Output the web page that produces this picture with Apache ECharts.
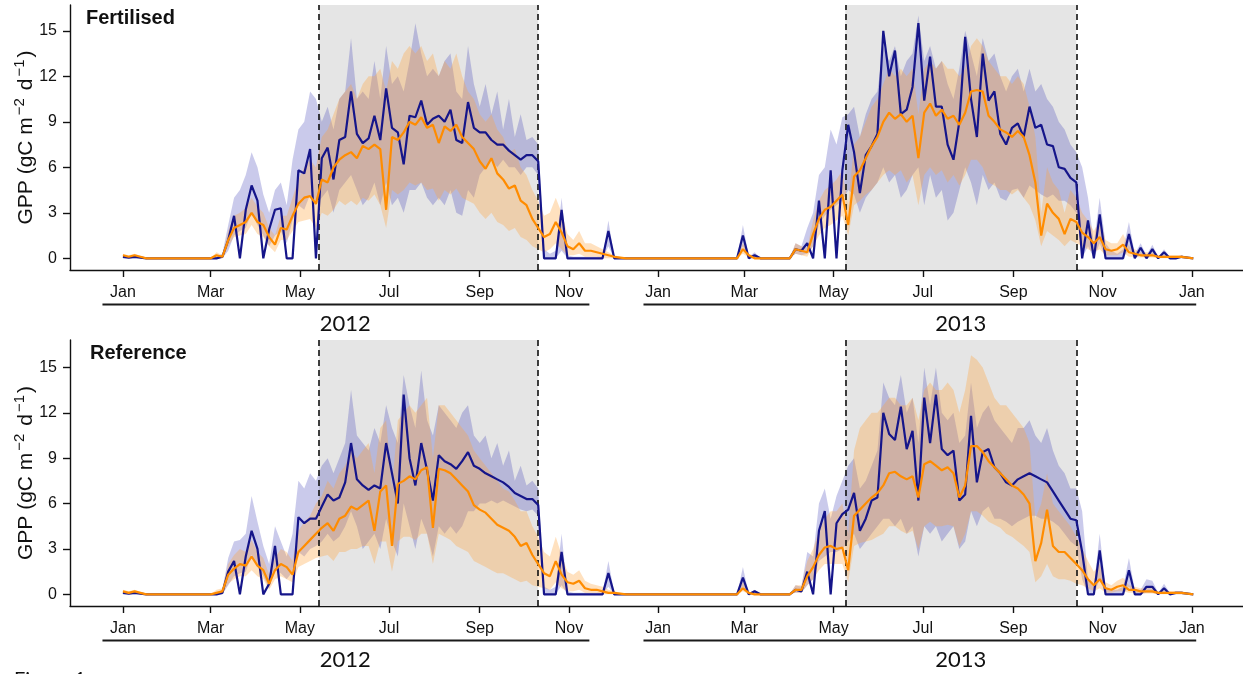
<!DOCTYPE html>
<html><head><meta charset="utf-8">
<script src="https://cdn.jsdelivr.net/npm/echarts@6/dist/echarts.min.js"></script>
<style>html,body{margin:0;padding:0;background:#fff;}#c{width:1243px;height:674px;}</style>
</head><body><div id="c"></div>
<script>
// ---------------- DATA ----------------
const DAY_STEP = 4;                      // readings every 4 days
const START_2012 = '2012-01-01';          // first reading of the *2012 arrays
const START_2013 = '2013-01-03';          // first reading of the *2013 arrays
const tickDates  = ['2012-01-01','2012-03-01','2012-05-01','2012-07-01','2012-09-01','2012-11-01',
                    '2013-01-01','2013-03-01','2013-05-01','2013-07-01','2013-09-01','2013-11-01','2014-01-01'];
const tickLabels = ['Jan','Mar','May','Jul','Sep','Nov','Jan','Mar','May','Jul','Sep','Nov','Jan'];
const yTicks = [0,3,6,9,12,15];
const panelTitles = ['Fertilised','Reference'];
const yearLabels = ['2012','2013'];
const yearSpans = [['2011-12-18','2012-11-15'],['2012-12-22','2014-01-04']];
const yearLabelDates = ['2012-06-01','2013-07-27'];
const growingSeasons = [['2012-05-14','2012-10-11'],['2013-05-09','2013-10-14']];

// ----- Fertilised panel -----
const fertNavy2012 = [
0.1,0.05,0.1,0.05,0,0,0,0,0,0,0,0,0,0,0,
0,0,0.1,1.2,2.8,0,3.2,4.8,3.8,0,
1.9,3.2,3.3,0,0,5.8,5.6,7.2,0,6.6,
7.3,5.2,7.8,8.0,11.0,8.2,7.6,7.9,9.4,7.8,
11.2,8.6,8.3,6.2,9.4,9.3,10.4,8.8,9.2,9.4,
9.0,9.8,7.8,7.6,10.3,8.6,8.3,8.3,7.8,7.5,
7.5,7.1,6.8,6.5,6.8,6.8,6.4,0,0,0,
3.2,0,0,0,0,0,0,0,1.8,0,
0,0,0,0,0,0,0];
const fertOrange2012 = [
0.2,0.1,0.2,0.1,0,0,0,0,0,0,0,0,0,0,0,
0,0.2,0.1,1.2,2.0,2.2,2.4,3.0,2.4,2.2,
1.4,0.9,2.0,1.9,2.8,3.6,4.0,4.1,3.6,5.2,
5.0,6.0,6.5,6.8,7.0,6.6,7.4,7.2,7.5,7.2,
3.2,8.0,7.8,8.3,9.0,8.8,9.3,8.6,8.8,7.6,
8.7,8.4,8.8,8.0,7.6,7.2,6.4,5.9,6.6,5.6,
5.2,4.6,4.8,3.8,3.5,2.6,2.0,1.4,1.6,2.4,
1.7,0.8,0.6,1.0,0.5,0.5,0.4,0.3,0.2,0.1,
0.05,0,0,0,0,0,0];
const fertNavyLo2012 = [
0,0,0,0,0,0,0,0,0,0,0,0,0,0,0,
0,0,0,0.5,1.5,1.8,2.0,3.0,2.2,1.5,
0.8,1.5,1.8,1.0,2.5,3.5,3.2,4.2,3.5,4.0,
4.5,3.0,4.5,5.0,5.5,4.5,3.5,4.0,5.0,3.5,
5.0,3.5,4.0,3.0,4.5,4.5,5.0,4.0,3.5,4.0,
3.5,4.5,3.0,2.8,4.5,4.0,5.5,6.0,6.5,6.0,
6.5,6.0,6.0,5.5,6.0,6.0,5.5,0,0,0,
0.5,0,0,0,0,0,0,0,0.8,0,
0,0,0,0,0,0,0];
const fertNavyHi2012 = [
0.2,0.15,0.2,0.1,0,0,0,0,0,0,0,0,0,0,0,
0,0.1,0.3,2.2,4.0,4.5,5.5,7.0,6.0,4.2,
3.0,4.5,5.0,3.5,6.5,8.5,9.0,11.0,10.5,9.0,
10.0,8.5,10.5,11.0,14.5,10.5,11.0,10.5,13.0,10.5,
14.0,11.5,12.0,11.0,13.0,15.5,13.5,12.0,12.5,12.0,
13.0,13.5,11.0,10.5,14.0,11.5,10.0,11.5,9.5,11.0,
8.5,10.5,8.0,9.5,7.8,8.0,7.5,0.6,0.3,0.5,
4.0,0.2,0.1,0.1,0.1,0.1,0.1,0.1,2.5,0.1,
0,0,0,0,0,0,0];
const fertOrangeLo2012 = [
0.05,0,0.05,0,0,0,0,0,0,0,0,0,0,0,0,
0,0,0,0.8,1.4,1.5,1.6,2.2,1.6,1.4,
0.8,0.4,1.2,1.2,1.8,2.4,2.5,2.6,2.0,3.0,
2.8,3.2,3.8,3.5,3.8,3.5,4.0,3.8,4.2,3.5,
2.0,4.5,4.2,4.5,5.0,4.8,5.0,4.5,4.6,3.8,
4.5,4.2,4.6,4.0,3.8,3.6,3.0,2.6,3.0,2.4,
2.2,1.8,2.0,1.4,1.2,0.8,0.6,0.4,0.6,1.0,
0.6,0.2,0.2,0.3,0.1,0.1,0.1,0,0,0,
0,0,0,0,0,0,0];
const fertOrangeHi2012 = [
0.3,0.2,0.3,0.15,0,0,0,0,0,0,0,0,0,0,0,
0,0.4,0.2,1.8,2.8,3.0,3.3,4.0,3.4,3.0,
2.0,1.5,2.8,2.8,4.0,5.2,6.0,6.5,6.0,8.0,
8.5,9.5,10.5,11.0,11.5,10.5,11.5,12.0,12.0,12.5,
11.0,13.0,12.5,13.5,14.0,13.5,14.0,13.0,13.5,12.0,
13.0,12.5,13.5,12.0,11.0,10.5,9.5,9.0,9.5,8.5,
8.0,7.0,7.2,6.0,5.5,4.5,3.8,2.8,3.0,4.0,
3.0,1.6,1.2,1.8,1.0,1.0,0.8,0.6,0.4,0.2,
0.1,0,0,0,0,0,0];

const fertNavy2013 = [
0,0,0,0,0,0,0,0,0,0,0,0,0,0,1.5,0,0.2,0,0,0,0,0,
0,0.6,0.5,1.0,0,3.8,0,5.8,0,5.8,
8.8,7.0,4.3,6.8,7.4,8.2,15.0,12.0,13.7,9.5,
9.8,11.3,15.5,10.4,13.3,10.0,10.0,7.5,6.5,9.0,
14.6,10.5,8.0,13.5,10.4,11.0,8.2,7.5,8.6,8.9,
8.0,10.0,8.6,8.8,7.5,7.4,6.0,5.9,5.3,5.0,
0,2.5,0,2.9,0,0,0,0,1.6,0,
0.7,0,0.6,0,0.4,0,0,0.1,0.05,0];
const fertOrange2013 = [
0,0,0,0,0,0,0,0,0,0,0,0,0,0,0.6,0.2,0,0,0,0,0,0,
0,0.6,0.5,0.4,1.6,2.6,3.2,3.4,3.8,4.2,
2.2,5.4,5.8,6.6,7.4,8.0,9.0,9.6,9.2,9.5,
9.0,9.4,6.6,9.6,10.2,9.4,9.8,9.2,9.4,8.8,
9.6,11.0,11.1,11.0,9.4,9.0,8.5,8.3,8.0,8.4,
8.0,6.8,5.0,1.5,3.6,3.0,2.6,1.6,2.6,2.4,
1.7,1.4,1.0,1.4,0.6,0.5,0.6,0.9,0.4,0.3,
0.2,0.2,0.2,0.1,0.1,0.1,0.1,0.1,0.05,0];
const fertNavyLo2013 = [
0,0,0,0,0,0,0,0,0,0,0,0,0,0,0.8,0,0,0,0,0,0,0,
0,0.3,0.2,0.3,0.8,2.2,2.8,3.2,3.5,3.8,
4.5,4.2,3.0,4.0,4.5,5.0,6.0,5.0,5.5,4.0,
4.5,5.5,6.0,3.5,5.5,4.0,4.5,2.5,3.0,4.5,
6.0,5.0,3.5,5.5,4.5,5.0,4.0,3.8,4.5,4.6,
4.0,4.8,4.5,4.2,4.0,4.2,3.8,3.8,3.5,3.0,
0,0.8,0,1.0,0,0,0,0,0.6,0,
0.2,0,0.2,0,0.1,0,0,0,0,0];
const fertNavyHi2013 = [
0,0,0,0,0,0,0,0,0,0,0,0,0,0,2.2,0.1,0.4,0,0,0,0,0,
0,1.0,0.8,2.0,3.0,5.5,6.0,8.5,7.5,9.3,
9.5,10.0,8.0,9.5,10.5,11.0,14.0,13.0,14.0,12.0,
13.0,13.5,16.0,13.0,14.0,12.5,13.0,11.5,10.5,12.5,
15.0,13.5,12.0,14.5,13.0,13.5,12.0,11.0,12.0,12.5,
11.0,12.5,11.0,11.5,10.5,10.0,9.0,8.5,7.5,7.0,
6.0,4.0,1.0,4.0,1.0,0.5,0.3,0.6,2.4,0.3,
1.0,0.2,0.9,0.1,0.6,0.1,0.1,0.2,0.1,0];
const fertOrangeLo2013 = [
0,0,0,0,0,0,0,0,0,0,0,0,0,0,0.3,0.05,0,0,0,0,0,0,
0,0.3,0.2,0.1,0.8,1.5,2.0,2.2,2.5,2.8,
1.5,3.5,3.8,4.2,4.5,5.0,5.5,5.8,5.5,5.8,
5.0,5.5,3.5,5.5,6.0,5.5,5.8,5.0,5.5,4.8,
5.5,6.5,6.5,6.0,5.0,4.8,4.5,4.5,4.2,4.5,
4.0,3.5,2.5,0.8,1.8,1.5,1.2,0.8,1.2,1.0,
0.8,0.6,0.4,0.6,0.2,0.2,0.2,0.4,0.1,0.1,
0.05,0.05,0.05,0,0,0,0,0,0,0];
const fertOrangeHi2013 = [
0,0,0,0,0,0,0,0,0,0,0,0,0,0,1.0,0.3,0.1,0,0,0,0,0,
0,1.0,0.8,0.7,2.5,3.8,4.5,4.8,5.2,5.8,
3.5,7.5,8.0,9.0,10.0,10.5,11.5,12.5,12.0,12.5,
12.0,12.5,9.5,12.5,13.0,12.5,13.0,12.5,12.5,12.0,
12.5,14.0,14.5,14.0,13.0,12.5,12.0,12.0,11.5,12.0,
11.5,10.0,8.0,3.0,6.0,5.0,4.5,3.0,4.5,4.0,
3.0,2.5,1.8,2.5,1.2,1.0,1.0,1.6,0.8,0.6,
0.4,0.4,0.4,0.2,0.2,0.2,0.2,0.2,0.1,0];

// ----- Reference panel -----
const refNavy2012 = [
0.1,0.05,0.1,0.05,0,0,0,0,0,0,0,0,0,0,0,
0,0,0.1,1.5,2.2,0,2.5,4.2,3.0,0,
0.7,3.2,0,0,0,5.1,4.7,5.0,5.0,5.8,
6.6,6.2,6.4,7.4,10.0,7.6,7.2,6.9,7.2,7.0,
10.0,8.0,6.0,13.2,9.0,7.2,10.0,8.2,6.2,9.2,
8.8,8.6,8.3,8.8,9.4,8.5,8.3,8.0,7.8,7.6,
7.4,7.1,6.7,6.5,6.3,6.3,5.9,0,0,0,
2.8,0,0,0,0,0,0,0,1.4,0,
0,0,0,0,0,0,0];
const refOrange2012 = [
0.2,0.1,0.2,0.1,0,0,0,0,0,0,0,0,0,0,0,
0,0.1,0.2,1.3,1.7,2.0,1.9,2.5,1.9,1.6,
0.7,1.6,2.0,1.8,1.3,2.8,3.2,3.6,4.0,4.4,
4.7,4.2,5.0,5.2,5.8,5.6,5.9,6.2,4.2,6.8,
7.2,3.2,7.3,7.5,7.8,7.6,8.2,8.4,4.4,8.3,
8.2,8.0,7.6,7.2,6.8,5.9,5.6,5.4,5.0,4.6,
4.4,4.2,3.8,3.2,3.4,2.6,2.0,1.4,1.2,2.2,
1.3,0.8,0.7,0.9,0.4,0.3,0.3,0.2,0.1,0.1,
0.05,0,0,0,0,0,0];
const refNavyLo2012 = [
0,0,0,0,0,0,0,0,0,0,0,0,0,0,0,
0,0,0,0.6,1.2,1.4,1.5,2.6,1.8,1.2,
0.4,1.6,1.4,1.0,1.5,2.8,2.5,3.0,3.2,3.5,
4.0,3.5,3.8,4.5,5.5,4.5,3.0,3.5,4.0,3.0,
5.0,3.5,2.5,6.0,4.5,3.0,5.0,4.0,2.5,4.5,
4.0,4.5,4.0,4.5,5.5,5.5,6.0,6.0,6.2,6.0,
6.2,6.0,5.8,5.6,5.5,5.6,5.2,0,0,0,
0.6,0,0,0,0,0,0,0,0.5,0,
0,0,0,0,0,0,0];
const refNavyHi2012 = [
0.2,0.15,0.2,0.1,0,0,0,0,0,0,0,0,0,0,0,
0,0.1,0.3,2.4,3.5,3.6,4.0,6.5,4.8,3.2,
2.0,4.5,3.5,2.5,4.0,7.5,7.0,8.0,7.5,8.5,
9.0,8.0,9.0,10.0,13.5,10.5,10.0,9.5,11.0,10.0,
12.5,11.0,10.0,14.5,12.5,11.0,14.8,11.5,10.5,12.5,
12.0,11.5,11.0,12.0,12.5,10.5,10.0,10.5,9.0,10.0,
8.5,9.5,7.5,8.5,7.2,7.5,7.0,0.5,0.3,0.5,
4.0,0.2,0.1,0.1,0.1,0.1,0.1,0.1,2.2,0.1,
0,0,0,0,0,0,0];
const refOrangeLo2012 = [
0.05,0,0.05,0,0,0,0,0,0,0,0,0,0,0,0,
0,0,0,0.7,1.0,1.2,1.2,1.6,1.2,1.0,
0.3,1.0,1.2,1.0,0.8,1.8,2.0,2.2,2.4,2.5,
2.6,2.2,2.8,2.8,3.0,3.0,3.2,3.2,2.0,3.5,
3.5,1.5,3.5,3.8,3.8,3.6,4.0,4.0,2.0,4.0,
3.8,3.6,3.2,3.0,2.8,2.2,2.0,1.8,1.6,1.4,
1.4,1.2,1.0,0.8,0.9,0.6,0.5,0.4,0.3,0.8,
0.4,0.2,0.2,0.3,0.1,0.1,0.1,0,0,0,
0,0,0,0,0,0,0];
const refOrangeHi2012 = [
0.3,0.2,0.3,0.15,0,0,0,0,0,0,0,0,0,0,0,
0,0.3,0.4,2.0,2.6,3.0,2.8,3.6,2.8,2.4,
1.3,2.4,3.0,2.8,2.2,4.2,4.8,5.2,6.0,6.5,
7.5,7.0,8.0,8.5,9.5,9.0,9.5,10.0,8.0,11.0,
11.5,7.0,11.5,12.0,12.5,12.0,12.5,13.0,9.0,12.5,
12.5,12.0,11.5,11.0,10.5,9.5,9.0,8.5,8.0,7.5,
7.0,6.8,6.2,5.5,5.5,4.5,3.8,2.8,2.5,3.8,
2.6,1.5,1.3,1.6,0.9,0.7,0.6,0.5,0.3,0.2,
0.1,0,0,0,0,0,0];

const refNavy2013 = [
0,0,0,0,0,0,0,0,0,0,0,0,0,0,1.1,0,0.2,0,0,0,0,0,
0,0.3,0.2,1.5,0,4.2,5.5,0,4.7,5.3,
5.6,6.7,4.2,5.0,6.2,6.4,12.0,10.6,10.2,12.4,
9.6,10.8,6.2,13.0,10.0,13.2,9.6,9.2,9.5,6.2,
6.6,11.8,7.4,9.4,9.6,8.4,8.0,7.4,7.2,7.6,
7.8,8.0,7.8,7.6,7.4,6.8,6.2,5.6,5.0,4.9,
2.8,0,0,2.9,0,0,0,0,1.6,0,
0,0.5,0.5,0,0.4,0,0.1,0.1,0.05,0];
const refOrange2013 = [
0,0,0,0,0,0,0,0,0,0,0,0,0,0,0.4,0.1,0,0,0,0,0,0,
0,0.3,0.3,1.2,1.8,2.6,3.1,3.2,3.0,3.1,
1.6,5.2,5.6,6.0,6.4,6.7,7.2,8.0,8.1,7.8,
7.6,7.8,6.4,8.6,8.8,8.5,8.2,8.4,8.0,6.4,
7.2,9.8,9.8,9.4,8.8,8.4,8.0,7.6,7.2,7.0,
6.6,6.0,2.2,3.4,5.6,3.2,2.8,2.8,2.4,2.0,
1.6,1.0,0.6,1.0,0.4,0.3,0.5,0.6,0.3,0.3,
0.2,0.2,0.2,0.1,0.1,0.1,0.1,0.1,0.05,0];
const refNavyLo2013 = [
0,0,0,0,0,0,0,0,0,0,0,0,0,0,0.5,0,0,0,0,0,0,0,
0,0.1,0.1,0.6,1.0,2.2,2.5,2.8,2.8,3.0,
3.5,4.0,3.0,3.5,4.0,4.5,5.0,5.0,4.5,5.0,
4.0,4.5,2.5,4.5,4.0,4.5,3.5,4.0,4.5,3.0,
3.5,5.5,4.5,5.5,5.8,5.0,5.0,4.8,4.5,4.8,
5.0,5.2,5.2,5.0,5.0,4.8,4.5,4.0,3.5,3.2,
1.0,0,0,1.0,0,0,0,0,0.5,0,
0,0.1,0.1,0,0.1,0,0,0,0,0];
const refNavyHi2013 = [
0,0,0,0,0,0,0,0,0,0,0,0,0,0,1.8,0,0.3,0,0,0,0,0,
0,0.6,0.5,2.8,2.5,6.0,7.0,5.0,6.5,7.5,
8.5,9.0,7.0,7.5,8.5,9.5,14.0,13.0,12.5,14.5,
12.0,13.0,10.0,15.0,12.5,15.0,12.0,11.5,12.0,10.0,
10.5,14.0,11.0,12.0,12.5,11.5,11.0,10.5,10.0,11.0,
11.0,11.5,10.5,10.0,11.0,9.5,8.5,8.0,7.0,7.0,
5.5,1.0,0.5,4.0,0.5,0.3,0.3,0.5,2.4,0.3,
0.3,1.0,0.9,0.1,0.7,0.1,0.2,0.2,0.1,0];
const refOrangeLo2013 = [
0,0,0,0,0,0,0,0,0,0,0,0,0,0,0.2,0,0,0,0,0,0,0,
0,0.1,0.1,0.6,1.0,1.6,2.0,2.0,2.0,2.0,
0.8,3.2,3.4,3.5,3.6,3.8,4.0,4.5,4.5,4.2,
4.0,4.2,3.0,4.5,4.8,4.5,4.5,4.6,4.5,3.2,
4.0,5.5,5.5,5.2,4.8,4.6,4.4,4.0,3.8,3.5,
3.2,2.8,0.8,1.2,2.0,1.2,1.0,1.0,0.9,0.7,
0.6,0.4,0.2,0.4,0.1,0.1,0.2,0.2,0.1,0.1,
0.05,0.05,0.05,0,0,0,0,0,0,0];
const refOrangeHi2013 = [
0,0,0,0,0,0,0,0,0,0,0,0,0,0,0.8,0.2,0,0,0,0,0,0,
0,0.6,0.6,2.2,3.0,4.2,5.0,5.5,5.5,6.0,
4.0,9.5,11.0,11.5,12.0,12.0,12.5,13.0,13.0,12.5,
12.5,13.0,11.5,13.5,14.0,13.5,13.5,14.0,13.5,12.0,
13.5,15.8,15.5,15.0,14.0,13.0,12.5,12.5,12.0,11.5,
11.0,10.0,5.0,6.0,8.0,6.0,5.5,5.0,4.5,3.8,
3.0,2.2,1.5,2.0,0.8,0.6,0.9,1.1,0.6,0.5,
0.4,0.4,0.4,0.2,0.2,0.2,0.2,0.2,0.1,0];

// ---------------- BUILD ----------------
const ORIGIN = Date.UTC(2012, 0, 1);
function dayOf(s){ const p = s.split('-').map(Number); return (Date.UTC(p[0], p[1]-1, p[2]) - ORIGIN) / 86400000; }
function toPairs(a2012, a2013){
  const s1 = dayOf(START_2012), s2 = dayOf(START_2013);
  return a2012.map((v,i)=>[s1 + i*DAY_STEP, v]).concat(a2013.map((v,i)=>[s2 + i*DAY_STEP, v]));
}
const panels = [
  { navy: toPairs(fertNavy2012, fertNavy2013), orange: toPairs(fertOrange2012, fertOrange2013),
    navyLo: toPairs(fertNavyLo2012, fertNavyLo2013), navyHi: toPairs(fertNavyHi2012, fertNavyHi2013),
    orangeLo: toPairs(fertOrangeLo2012, fertOrangeLo2013), orangeHi: toPairs(fertOrangeHi2012, fertOrangeHi2013) },
  { navy: toPairs(refNavy2012, refNavy2013), orange: toPairs(refOrange2012, refOrange2013),
    navyLo: toPairs(refNavyLo2012, refNavyLo2013), navyHi: toPairs(refNavyHi2012, refNavyHi2013),
    orangeLo: toPairs(refOrangeLo2012, refOrangeLo2013), orangeHi: toPairs(refOrangeHi2012, refOrangeHi2013) }
];

const NAVY = '#15158a', ORANGE = '#ff8c00';
const NAVY_BAND = 'rgba(60,60,180,0.27)', ORANGE_BAND = 'rgba(255,165,60,0.33)';
const FONT = 'Liberation Sans';
const grids = [
  { left: 70, top: 5, width: 1173, height: 265, outerBoundsMode: 'none', containLabel: false },
  { left: 70, top: 340, width: 1173, height: 266, outerBoundsMode: 'none', containLabel: false }
];
const yRanges = [[-0.77, 16.7], [-0.77, 16.81]];
const tickDays = tickDates.map(dayOf);

function bandSeries(p, lo, hi, color, z){
  const data = lo.map((d,i)=>[d[0], d[1], hi[i][1]]);
  return {
    type: 'custom', xAxisIndex: p, yAxisIndex: p, z: z, silent: true, clip: true,
    data: data, encode: { x: 0, y: [1, 2] },
    renderItem: function(params, api){
      if (params.dataIndex !== 0) return null;
      const up = data.map(d => api.coord([d[0], d[2]]));
      const dn = data.map(d => api.coord([d[0], d[1]])).reverse();
      return { type: 'polygon', shape: { points: up.concat(dn) }, style: { fill: color } };
    }
  };
}

const xAxes = [], yAxes = [], series = [], titles = [];
grids.forEach((g, p) => {
  xAxes.push({
    type: 'value', gridIndex: p, min: -36.2, max: 766,
    axisLine: { show: true, onZero: false, lineStyle: { color: '#111', width: 1.4 } },
    axisTick: { show: true, customValues: tickDays, length: 7, lineStyle: { color: '#111', width: 1.4 } },
    axisLabel: { customValues: tickDays, margin: 15, fontSize: 16, fontFamily: FONT, color: '#111',
      formatter: v => { const i = tickDays.findIndex(t => Math.abs(t - v) < 0.5); return i >= 0 ? tickLabels[i] : ''; } },
    splitLine: { show: false }
  });
  yAxes.push({
    type: 'value', gridIndex: p, min: yRanges[p][0], max: yRanges[p][1],
    axisLine: { show: true, onZero: false, lineStyle: { color: '#111', width: 1.4 } },
    axisTick: { show: true, customValues: yTicks, length: 7, lineStyle: { color: '#111', width: 1.4 } },
    axisLabel: { customValues: yTicks, margin: 13, fontSize: 16, fontFamily: FONT, color: '#111' },
    splitLine: { show: false },
    name: '{m|GPP (gC m}{s|−2}{m| d}{s|−1}{m|)}',
    nameLocation: 'middle', nameRotate: 90, nameGap: 33, nameMoveOverlap: false,
    nameTextStyle: { fontFamily: FONT, color: '#111',
      rich: { m: { fontSize: 21, fontFamily: FONT, color: '#111', verticalAlign: 'bottom', lineHeight: 21 },
              s: { fontSize: 15, fontFamily: FONT, color: '#111', verticalAlign: 'top', padding: [0, 2, 10, 2] } } }
  });
  const d = panels[p];
  series.push({ type: 'line', xAxisIndex: p, yAxisIndex: p, data: [], z: 0, silent: true,
    markArea: { silent: true, itemStyle: { color: '#e5e5e5' },
      data: growingSeasons.map(s => [{ xAxis: dayOf(s[0]) }, { xAxis: dayOf(s[1]) }]) } });
  series.push(bandSeries(p, d.navyLo, d.navyHi, NAVY_BAND, 1));
  series.push(bandSeries(p, d.orangeLo, d.orangeHi, ORANGE_BAND, 2));
  series.push({ type: 'line', xAxisIndex: p, yAxisIndex: p, data: [], z: 3, silent: true,
    markLine: { silent: true, symbol: ['none', 'none'], label: { show: false },
      lineStyle: { color: '#111', type: [6, 4], width: 1.6 },
      data: growingSeasons.flat().map(s => ({ xAxis: dayOf(s) })) } });
  series.push({ type: 'line', xAxisIndex: p, yAxisIndex: p, data: d.navy, z: 5, silent: true,
    showSymbol: false, symbol: 'none', lineStyle: { color: NAVY, width: 2.2 }, itemStyle: { color: NAVY } });
  series.push({ type: 'line', xAxisIndex: p, yAxisIndex: p, data: d.orange, z: 6, silent: true,
    showSymbol: false, symbol: 'none', lineStyle: { color: ORANGE, width: 2.2 }, itemStyle: { color: ORANGE } });
  titles.push({ text: panelTitles[p], left: p === 0 ? 86 : 90, top: g.top + 3, padding: 0,
    textStyle: { fontSize: 20, fontWeight: 'bold', fontFamily: FONT, color: '#111' } });
});

const chart = echarts.init(document.getElementById('c'));
chart.setOption({
  animation: false, backgroundColor: '#fff',
  textStyle: { fontFamily: FONT },
  title: titles, grid: grids, xAxis: xAxes, yAxis: yAxes, series: series
});

// year brackets and labels under each panel, positioned through the x scale
const graphics = [];
grids.forEach((g, p) => {
  const base = g.top + g.height;
  yearSpans.forEach((span, k) => {
    const x1 = chart.convertToPixel({ xAxisIndex: p }, dayOf(span[0]));
    const x2 = chart.convertToPixel({ xAxisIndex: p }, dayOf(span[1]));
    graphics.push({ type: 'line', silent: true, shape: { x1: x1, y1: base + 34.5, x2: x2, y2: base + 34.5 },
      style: { stroke: '#1a1a1a', lineWidth: 2 } });
    const xl = chart.convertToPixel({ xAxisIndex: p }, dayOf(yearLabelDates[k]));
    graphics.push({ type: 'text', silent: true, x: xl, y: base + 54,
      style: { text: yearLabels[k], fontSize: 22, fontFamily: 'Lato', fill: '#111', align: 'center', verticalAlign: 'middle' } });
  });
});
graphics.push({ type: 'text', silent: true, x: 14, y: 670,
  style: { text: 'Figure 1', fontSize: 20, fontFamily: 'Lato', fill: '#111', align: 'left', verticalAlign: 'top' } });
chart.setOption({ graphic: graphics });
</script>
</body></html>
